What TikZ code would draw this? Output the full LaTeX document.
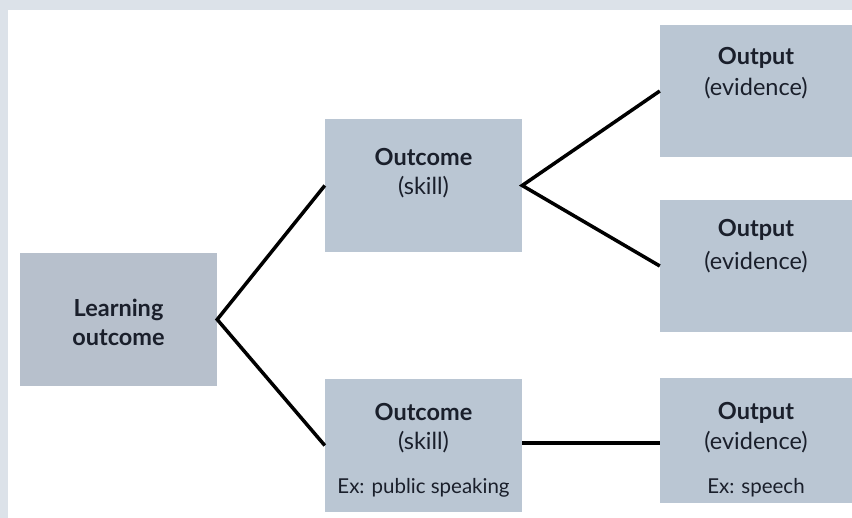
\documentclass[tikz,border=0pt]{standalone}
\usepackage{fontspec}
\setmainfont{Lato}
\definecolor{frame}{HTML}{DCE2E9}
\definecolor{boxfill}{HTML}{BAC6D3}
\definecolor{lofill}{HTML}{B7C0CC}
\definecolor{ink}{HTML}{1A1F2B}
\tikzset{
  box/.style={draw=none, fill=boxfill, rectangle, inner sep=0pt},
  head/.style={font=\bfseries\fontsize{23.5}{28}\selectfont, text=ink, inner sep=0pt},
  sub/.style={font=\fontsize{23.5}{28}\selectfont, text=ink, inner sep=0pt},
  ex/.style={font=\fontsize{20.5}{24}\selectfont, text=ink, inner sep=0pt},
  link/.style={draw=black, line width=3.5pt}
}
\begin{document}
\begin{tikzpicture}[x=1pt,y=-1pt]
\useasboundingbox (0,0) rectangle (852,518);
\clip (0,0) rectangle (852,518);
\fill[frame] (0,0) rectangle (852,518);
\fill[white] (8,10) rectangle (852,518);
% boxes
\node[box, fill=lofill, minimum width=197pt, minimum height=133pt] (lo) at (118.5,319.5) {};
\node[box, minimum width=197pt, minimum height=133pt] (oc1) at (423.5,185.5) {};
\node[box, minimum width=197pt, minimum height=133pt] (oc2) at (423.5,445.5) {};
\node[box, minimum width=200pt, minimum height=132pt] (op1) at (760,91) {};
\node[box, minimum width=200pt, minimum height=132pt] (op2) at (760,266) {};
\node[box, minimum width=200pt, minimum height=125pt] (op3) at (760,440.5) {};
% texts
\node[head] (lot1) at (118.5,310) {Learning};
\node[head] (lot2) at (118.5,338) {outcome};
\node[head] (oc1t) at (423.5,157) {Outcome};
\node[sub] (oc1s) at (423.5,187) {(skill)};
\node[head] (oc2t) at (423.5,412) {Outcome};
\node[sub] (oc2s) at (423.5,442) {(skill)};
\node[ex] (oc2e) at (423.5,488) {Ex: public speaking};
\node[head] (op1t) at (756,58) {Output};
\node[sub] (op1s) at (756,88) {(evidence)};
\node[head] (op2t) at (756,230) {Output};
\node[sub] (op2s) at (756,262) {(evidence)};
\node[head] (op3t) at (756,413) {Output};
\node[sub] (op3s) at (756,442) {(evidence)};
\node[ex] (op3e) at (756,488) {Ex: speech};
% connectors
\draw[link] (oc1.west) -- (lo.east) -- (oc2.west);
\draw[link] (op1.west) -- (oc1.east) -- (op2.west);
\draw[link] ([yshift=2.5pt]oc2.east) -- ([yshift=2.5pt]oc2.east -| op3.west);
\end{tikzpicture}
\end{document}
